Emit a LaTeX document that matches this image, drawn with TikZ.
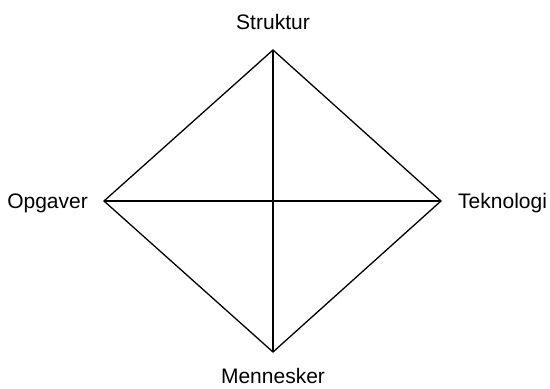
\documentclass[tikz,border=0pt]{standalone}
\usepackage{fontspec}
\setmainfont{Liberation Sans}
\begin{document}
\begin{tikzpicture}[x=1pt,y=-1pt,
  lbl/.style={font=\fontsize{21}{25}\selectfont, inner sep=0pt, anchor=base},
  edge/.style={line width=1.3pt, line join=miter}]
\useasboundingbox (0,0) rectangle (550,389);
\coordinate (T) at (273,50);
\coordinate (B) at (273,352);
\coordinate (L) at (104,201);
\coordinate (R) at (441,201);
\draw[edge] (T) -- (R) -- (B) -- (L) -- cycle;
\draw[edge] (T) -- (B);
\draw[edge] (L) -- (R);
\node[lbl] (s) at (273,29) {Struktur};
\node[lbl, anchor=base east] (o) at (88,208) {Opgaver};
\node[lbl, anchor=base west] (t) at (458,208) {Teknologi};
\node[lbl] (m) at (273,383) {Mennesker};
\end{tikzpicture}
\end{document}
